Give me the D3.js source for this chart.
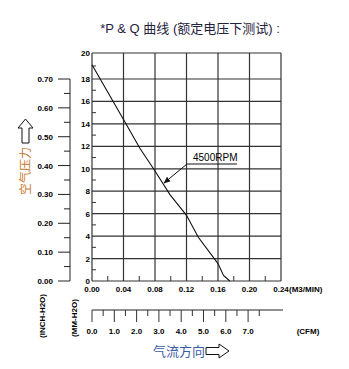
<!DOCTYPE html>
<html>
<head>
<meta charset="utf-8">
<script src="https://cdn.jsdelivr.net/npm/d3@7"></script>
<style>
  body { margin: 0; background: #fff; }
  svg { display: block; }
</style>
</head>
<body>
<svg id="svg1" width="349" height="369"></svg>
<script>
// airflow (m3/min) vs static pressure (mmH2O), 4500RPM curve
var flow     = [0, 0.040, 0.061, 0.080, 0.099, 0.120, 0.135, 0.160, 0.167, 0.175];
var pressure = [19.1, 14.4, 11.8, 9.8, 7.7, 5.85, 3.9, 1.55, 0.5, 0];

var flowTicks = [0, 0.04, 0.08, 0.12, 0.16, 0.20, 0.24];
var flowLabels = ['0.00', '0.04', '0.08', '0.12', '0.16', '0.20', '0.24'];
var mmTicks = [0, 2, 4, 6, 8, 10, 12, 14, 16, 18, 20];
var inchTicks = [0, 0.1, 0.2, 0.3, 0.4, 0.5, 0.6, 0.7];
var inchLabels = ['0.00', '0.10', '0.20', '0.30', '0.40', '0.50', '0.60', '0.70'];
var cfmTicks = [0, 1, 2, 3, 4, 5, 6, 7];
var cfmLabels = ['0.0', '1.0', '2.0', '3.0', '4.0', '5.0', '6.0', '7.0'];

var svg = d3.select('svg');

var x = d3.scaleLinear().domain([0, 0.24]).range([92, 281]);
var y = d3.scaleLinear().domain([0, 18, 20]).range([281, 79, 53]);
var yIn = d3.scaleLinear().domain([0, 0.7]).range([281, 79]);
var xCfm = d3.scaleLinear().domain([0, 8.5]).range([92, 92 + 8.5 * 22.3]);

var tickFont = 'bold 8px "Liberation Sans", Arial, sans-serif';

// grid
svg.selectAll('.vgrid').data(flowTicks).enter().append('line')
    .attr('x1', function(d){ return x(d); }).attr('x2', function(d){ return x(d); })
    .attr('y1', y(20)).attr('y2', y(0))
    .attr('stroke', '#333').attr('stroke-width', 1.2);
svg.selectAll('.hgrid').data(mmTicks).enter().append('line')
    .attr('x1', x(0)).attr('x2', x(0.24))
    .attr('y1', function(d){ return y(d); }).attr('y2', function(d){ return y(d); })
    .attr('stroke', '#333').attr('stroke-width', 1.2);

// minor inward ticks
svg.selectAll('.mx').data(d3.range(0.02, 0.24, 0.04)).enter().append('line')
    .attr('x1', function(d){ return x(d); }).attr('x2', function(d){ return x(d); })
    .attr('y1', y(0)).attr('y2', y(0) - 5)
    .attr('stroke', '#333');
svg.selectAll('.my').data(d3.range(1, 20, 2)).enter().append('line')
    .attr('x1', x(0)).attr('x2', x(0) + 4)
    .attr('y1', function(d){ return y(d); }).attr('y2', function(d){ return y(d); })
    .attr('stroke', '#333');

// mmH2O labels
svg.selectAll('.ymm').data(mmTicks).enter().append('text')
    .attr('x', 90).attr('y', function(d){ return y(d) + 3; })
    .attr('text-anchor', 'end').style('font', tickFont)
    .text(function(d){ return d; });

// inchH2O outer axis
svg.append('line').attr('x1', 70).attr('x2', 70).attr('y1', yIn(0.7)).attr('y2', yIn(0))
    .attr('stroke', '#222');
svg.selectAll('.yinT').data(inchTicks).enter().append('line')
    .attr('x1', 58).attr('x2', 70)
    .attr('y1', function(d){ return yIn(d); }).attr('y2', function(d){ return yIn(d); })
    .attr('stroke', '#222');
svg.selectAll('.yinM').data(d3.range(0.05, 0.7, 0.1)).enter().append('line')
    .attr('x1', 64).attr('x2', 70)
    .attr('y1', function(d){ return yIn(d); }).attr('y2', function(d){ return yIn(d); })
    .attr('stroke', '#222');
svg.selectAll('.yin').data(inchTicks).enter().append('text')
    .attr('x', 53).attr('y', function(d){ return yIn(d) + 3; })
    .attr('text-anchor', 'end').style('font', tickFont)
    .text(function(d, i){ return inchLabels[i]; });

// flow labels
svg.selectAll('.xl').data(flowTicks).enter().append('text')
    .attr('x', function(d){ return x(d); }).attr('y', 292)
    .attr('text-anchor', 'middle').style('font', tickFont)
    .text(function(d, i){ return flowLabels[i]; });
svg.append('text').attr('x', 289).attr('y', 292).style('font', tickFont).text('(M3/MIN)');

// CFM axis
svg.append('line').attr('x1', xCfm(0)).attr('x2', 283).attr('y1', 310).attr('y2', 310)
    .attr('stroke', '#222');
svg.selectAll('.cT').data(cfmTicks).enter().append('line')
    .attr('x1', function(d){ return xCfm(d); }).attr('x2', function(d){ return xCfm(d); })
    .attr('y1', 310).attr('y2', 322).attr('stroke', '#333');
svg.selectAll('.cM').data(d3.range(0.5, 8, 1)).enter().append('line')
    .attr('x1', function(d){ return xCfm(d); }).attr('x2', function(d){ return xCfm(d); })
    .attr('y1', 310).attr('y2', 316).attr('stroke', '#333');
svg.selectAll('.cl').data(cfmTicks).enter().append('text')
    .attr('x', function(d){ return xCfm(d); }).attr('y', 334)
    .attr('text-anchor', 'middle').style('font', tickFont)
    .text(function(d, i){ return cfmLabels[i]; });
svg.append('text').attr('x', 308).attr('y', 334).attr('text-anchor', 'middle')
    .style('font', tickFont).text('(CFM)');

// rotated unit labels
svg.append('text').attr('transform', 'translate(45,316) rotate(-90)')
    .attr('text-anchor', 'middle').style('font', tickFont).text('(INCH-H2O)');
svg.append('text').attr('transform', 'translate(77,318) rotate(-90)')
    .attr('text-anchor', 'middle').style('font', tickFont).text('(MM-H2O)');

// curve
var line = d3.line()
    .x(function(d){ return x(d[0]); })
    .y(function(d){ return y(d[1]); });
svg.append('path')
    .datum(flow.map(function(f, i){ return [f, pressure[i]]; }))
    .attr('d', line)
    .attr('fill', 'none').attr('stroke', '#111').attr('stroke-width', 1.1);

// annotation
svg.append('defs').append('marker')
    .attr('id', 'arr').attr('viewBox', '0 0 10 10').attr('refX', 9).attr('refY', 5)
    .attr('markerWidth', 7).attr('markerHeight', 7).attr('orient', 'auto')
    .append('path').attr('d', 'M0,1 L10,5 L0,9 Z').attr('fill', '#111');
svg.append('line').attr('x1', 187).attr('y1', 164).attr('x2', 237).attr('y2', 164)
    .attr('stroke', '#111');
svg.append('line').attr('x1', 187).attr('y1', 164).attr('x2', 164).attr('y2', 183)
    .attr('stroke', '#111').attr('marker-end', 'url(#arr)');
svg.append('text').attr('x', 193).attr('y', 161)
    .style('font', '10px "Liberation Sans", Arial, sans-serif').text('4500RPM');

// title
svg.append('text').attr('x', 190).attr('y', 33).attr('text-anchor', 'middle')
    .attr('fill', '#1f2340')
    .style('font', '13px "Liberation Sans", "Noto Sans CJK SC", sans-serif')
    .text('*P & Q 曲线 (额定电压下测试) :');

// vertical pressure title with up arrow
svg.append('text').attr('transform', 'translate(30,171) rotate(-90)')
    .attr('text-anchor', 'middle').attr('fill', '#c87a30')
    .style('font', '12px "Noto Sans CJK SC", sans-serif').text('空气压力');
svg.append('path')
    .attr('d', 'M22,143 L22,128 L18,128 L25.5,119 L33,128 L29,128 L29,143 Z')
    .attr('fill', 'none').attr('stroke', '#111').attr('stroke-width', 1);

// flow direction title with right arrow
svg.append('text').attr('x', 179).attr('y', 356).attr('text-anchor', 'middle')
    .attr('fill', '#3b5aa5')
    .style('font', '13px "Noto Sans CJK SC", sans-serif').text('气流方向');
svg.append('path')
    .attr('d', 'M206,347.5 L219,347.5 L219,344 L229,351 L219,358 L219,354.5 L206,354.5 Z')
    .attr('fill', 'none').attr('stroke', '#111').attr('stroke-width', 1);
</script>
</body>
</html>
